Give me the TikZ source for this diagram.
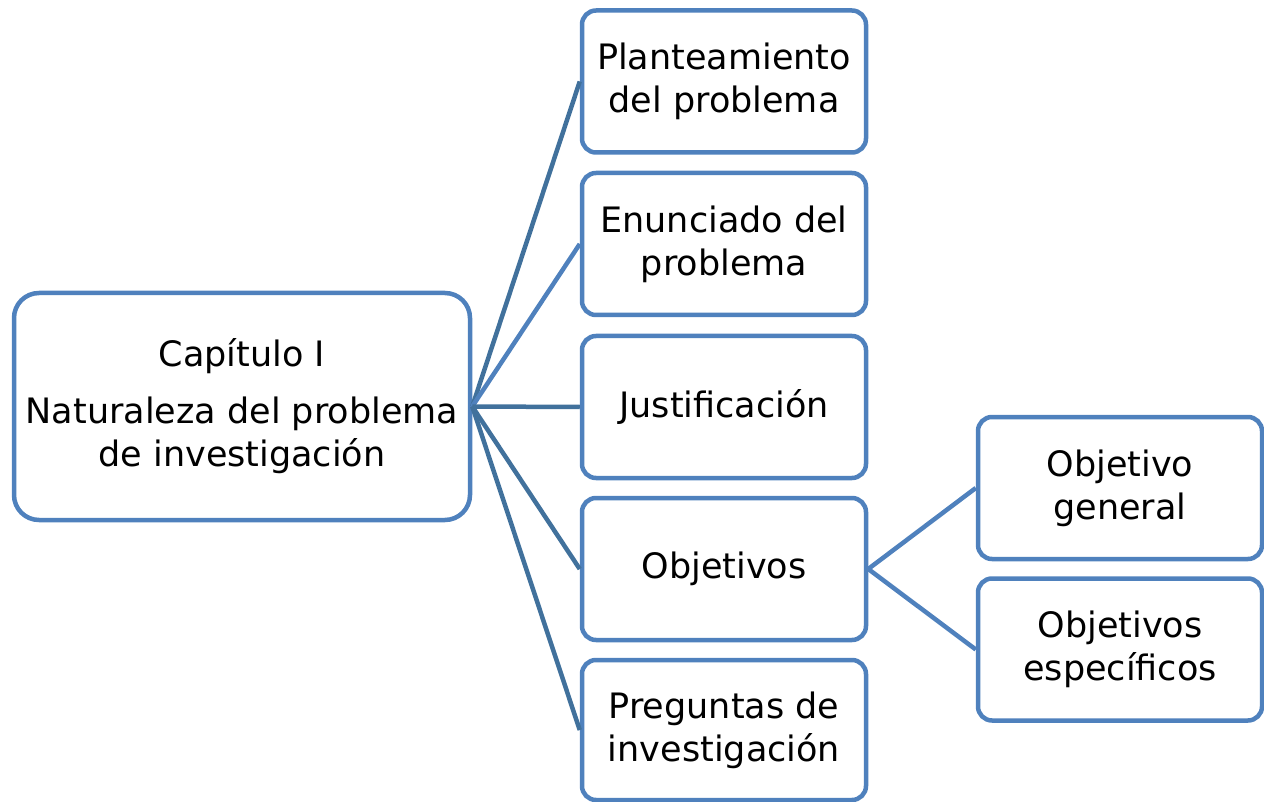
\documentclass[tikz,border=0pt]{standalone}
\usepackage{fontspec}
\setmainfont{DejaVu Sans}
\definecolor{boxblue}{HTML}{4F81BD}
\definecolor{linkblue}{HTML}{41719C}
\begin{document}
\begin{tikzpicture}[x=1pt,y=-1pt,
  box/.style={draw=boxblue,line width=4.5pt,rounded corners=14pt,fill=white,
    minimum width=284pt,minimum height=142pt,align=center,inner sep=0pt,
    font=\fontsize{35}{43}\selectfont},
  mainbox/.style={box,rounded corners=25pt,minimum width=456pt,minimum height=227pt},
  link/.style={draw=linkblue,line width=4.5pt},
  lightlink/.style={draw=boxblue,line width=4.5pt}]
\useasboundingbox (0,0) rectangle (1264,802);
\node[mainbox] (m) at (242,406.5) {Capítulo I\\[14pt]Naturaleza del problema\\de investigación};
\node[box] (b1) at (724,81.5) {Planteamiento\\del problema};
\node[box] (b2) at (724,244) {Enunciado del\\problema};
\node[box] (b3) at (724,407) {Justificación};
\node[box] (b4) at (724,569) {Objetivos};
\node[box,minimum height=140pt] (b5) at (724,730) {Preguntas de\\investigación};
\node[box] (o1) at (1120,488) {Objetivo\\general};
\node[box] (o2) at (1120,649.5) {Objetivos\\específicos};
\draw[link] (m.east) -- (b1.west);
\draw[lightlink] (m.east) -- (b2.west);
\draw[link] (m.east) -- (b3.west);
\draw[link] (m.east) -- (b4.west);
\draw[link] (m.east) -- (b5.west);
\draw[lightlink] (b4.east) -- (o1.west);
\draw[lightlink] (b4.east) -- (o2.west);
\end{tikzpicture}
\end{document}
